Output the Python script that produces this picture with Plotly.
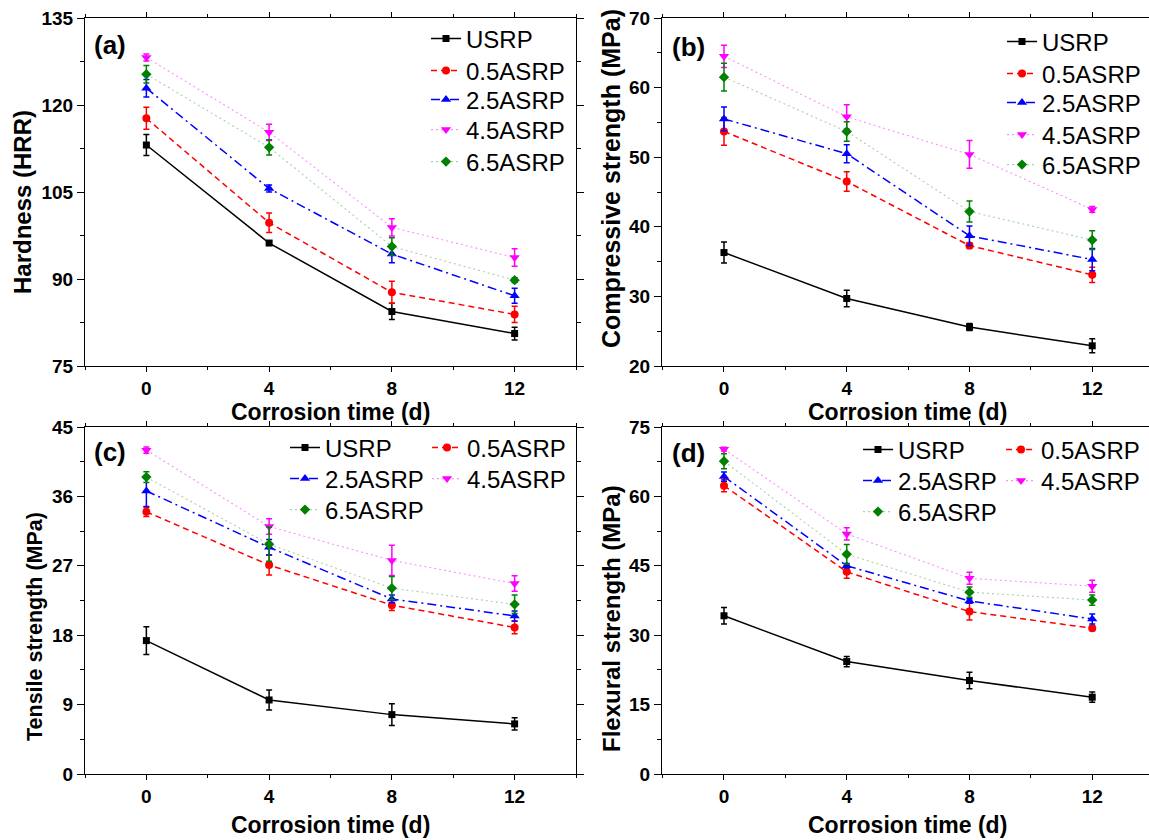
import plotly.graph_objects as go

# ---------------- data ----------------
days = [0, 4, 8, 12]
series_names = ["USRP", "0.5ASRP", "2.5ASRP", "4.5ASRP", "6.5ASRP"]

# (a) Hardness (HRR)
hard_usrp = [113.1, 96.2, 84.4, 80.6]
hard_usrp_err = [1.8, 0.4, 1.4, 1.1]
hard_05 = [117.7, 99.7, 87.7, 83.9]
hard_05_err = [1.9, 1.7, 1.9, 1.4]
hard_25 = [122.9, 105.6, 94.3, 87.1]
hard_25_err = [1.5, 0.6, 1.5, 1.3]
hard_45 = [128.2, 115.3, 98.9, 93.7]
hard_45_err = [0.6, 1.4, 1.5, 1.5]
hard_65 = [125.3, 112.7, 95.6, 89.8]
hard_65_err = [1.5, 1.3, 1.5, 0.4]

# (b) Compressive strength (MPa)
comp_usrp = [36.3, 29.7, 25.6, 22.9]
comp_usrp_err = [1.5, 1.2, 0.5, 1.0]
comp_05 = [53.7, 46.5, 37.3, 33.1]
comp_05_err = [2.0, 1.4, 0.4, 1.1]
comp_25 = [55.5, 50.5, 38.7, 35.3]
comp_25_err = [1.7, 1.3, 1.4, 1.6]
comp_45 = [64.5, 55.8, 50.4, 42.5]
comp_45_err = [1.6, 1.75, 2.0, 0.4]
comp_65 = [61.5, 53.7, 42.2, 38.1]
comp_65_err = [2.0, 1.4, 1.5, 1.35]

# (c) Tensile strength (MPa)
tens_usrp = [17.3, 9.6, 7.7, 6.5]
tens_usrp_err = [1.8, 1.3, 1.4, 0.8]
tens_05 = [34.0, 27.1, 21.9, 19.0]
tens_05_err = [0.6, 1.3, 0.7, 0.8]
tens_25 = [36.7, 29.4, 22.7, 20.5]
tens_25_err = [2.0, 1.0, 0.5, 0.65]
tens_45 = [42.0, 32.1, 27.7, 24.7]
tens_45_err = [0.4, 1.0, 1.95, 1.0]
tens_65 = [38.5, 29.8, 24.1, 22.0]
tens_65_err = [0.7, 2.2, 1.5, 1.2]

# (d) Flexural strength (MPa)
flex_usrp = [34.2, 24.3, 20.2, 16.6]
flex_usrp_err = [1.8, 1.1, 1.8, 1.1]
flex_05 = [62.3, 43.7, 35.1, 31.5]
flex_05_err = [1.3, 1.4, 1.8, 0.5]
flex_25 = [64.3, 45.0, 37.4, 33.5]
flex_25_err = [1.0, 0.5, 0.5, 1.1]
flex_45 = [70.2, 51.9, 42.3, 40.6]
flex_45_err = [0.4, 1.3, 1.3, 1.3]
flex_65 = [67.6, 47.5, 39.3, 37.6]
flex_65_err = [1.6, 2.1, 1.1, 1.1]

panel_data = [
    [(hard_usrp, hard_usrp_err), (hard_05, hard_05_err), (hard_25, hard_25_err),
     (hard_45, hard_45_err), (hard_65, hard_65_err)],
    [(comp_usrp, comp_usrp_err), (comp_05, comp_05_err), (comp_25, comp_25_err),
     (comp_45, comp_45_err), (comp_65, comp_65_err)],
    [(tens_usrp, tens_usrp_err), (tens_05, tens_05_err), (tens_25, tens_25_err),
     (tens_45, tens_45_err), (tens_65, tens_65_err)],
    [(flex_usrp, flex_usrp_err), (flex_05, flex_05_err), (flex_25, flex_25_err),
     (flex_45, flex_45_err), (flex_65, flex_65_err)],
]

# ---------------- styles ----------------
W, H = 1149, 840
FONT = "Liberation Sans, Arial, sans-serif"

marker_colors = ["#000000", "#ff0000", "#0000ff", "#ff00ff", "#008000"]
line_colors = ["#000000", "#ff0000", "#0000ff", "rgba(255,0,255,0.45)", "rgba(0,128,0,0.35)"]
line_dash = ["solid", "6px,4px", "9px,4px,2px,4px", "2px,3px", "2px,3px"]
line_width = [1.5, 1.5, 1.5, 1.1, 1.1]
symbols = ["square", "circle", "triangle-up", "triangle-down", "diamond"]
sizes = [7, 8, 9, 9, 8]


def px_x(p):
    return p / W


def px_y(p):
    return 1 - p / H


panels = [
    dict(xd=(85, 576), yd=(18, 366), xr=(-2, 14), yr=(75, 135), dt=15, mdt=7.5, mirror_y="allticks"),
    dict(xd=(662, 1149), yd=(18, 366), xr=(-2.02, 13.85), yr=(20, 70), dt=10, mdt=5, mirror_y=False),
    dict(xd=(85, 576), yd=(427, 774), xr=(-2, 14), yr=(0, 45), dt=9, mdt=4.5, mirror_y="allticks"),
    dict(xd=(662, 1149), yd=(427, 774), xr=(-2.02, 13.85), yr=(0, 75), dt=15, mdt=7.5, mirror_y=False),
]

# legend entry positions (text left x, row centre y) in pixels, per panel and series
legend_xy = [
    [(467, 39), (467, 71), (467, 100), (467, 130), (467, 162)],
    [(1043, 42), (1043, 74), (1043, 103), (1043, 135), (1043, 165)],
    [(326, 448), (468, 448), (326, 479), (468, 479), (326, 510)],
    [(899, 450), (1042, 450), (899, 481), (1042, 481), (899, 512)],
]

fig = go.Figure()
legend_layouts = {}
for p, pdata in enumerate(panel_data):
    xa = "x" if p == 0 else f"x{p+1}"
    ya = "y" if p == 0 else f"y{p+1}"
    for s, (vals, errs) in enumerate(pdata):
        k = p * 5 + s + 1
        lname = "legend" if k == 1 else f"legend{k}"
        tx, ty = legend_xy[p][s]
        legend_layouts[lname] = dict(
            x=px_x(tx - 41), y=px_y(ty), xanchor="left", yanchor="middle",
            bgcolor="rgba(0,0,0,0)", borderwidth=0, orientation="v",
            font=dict(family=FONT, size=24, color="black"), itemwidth=30,
        )
        fig.add_trace(go.Scatter(
            x=days, y=vals, name=series_names[s], mode="lines+markers",
            xaxis=xa, yaxis=ya, legend=lname,
            line=dict(color=line_colors[s], dash=line_dash[s], width=line_width[s]),
            marker=dict(symbol=symbols[s], size=sizes[s], color=marker_colors[s],
                        line=dict(width=0)),
            error_y=dict(type="data", array=errs, visible=True, color=marker_colors[s],
                         thickness=1.5, width=3),
        ))

layout = dict(
    template="none",
    width=W, height=H, margin=dict(l=0, r=0, t=0, b=0, pad=0, autoexpand=False),
    paper_bgcolor="white", plot_bgcolor="white",
    font=dict(family=FONT, color="black"),
    showlegend=True,
)
layout.update(legend_layouts)

for p, cfg in enumerate(panels):
    suffix = "" if p == 0 else str(p + 1)
    common = dict(
        showline=True, linecolor="black", linewidth=1.2,
        ticks="outside", ticklen=5, tickwidth=1.2, tickcolor="black",
        showgrid=False, zeroline=False, automargin=False,
        tickfont=dict(family=FONT, size=19, color="black", weight="bold"),
    )
    layout["xaxis" + suffix] = dict(
        common, domain=[px_x(cfg["xd"][0]), px_x(cfg["xd"][1])],
        range=list(cfg["xr"]), tickmode="linear", tick0=0, dtick=4,
        mirror="allticks", anchor="y" + suffix,
        minor=dict(ticks="outside", ticklen=3, tickwidth=1, tickcolor="black", dtick=2, tick0=0),
    )
    layout["yaxis" + suffix] = dict(
        common, domain=[px_y(cfg["yd"][1]), px_y(cfg["yd"][0])],
        range=list(cfg["yr"]), tickmode="linear", tick0=cfg["yr"][0], dtick=cfg["dt"],
        mirror=cfg["mirror_y"], anchor="x" + suffix, ticklen=7,
        minor=dict(ticks="outside", ticklen=4, tickwidth=1, tickcolor="black",
                   dtick=cfg["mdt"], tick0=cfg["yr"][0]),
    )

annotations = []
# panel labels
for label, (cx, cy) in zip(["(a)", "(b)", "(c)", "(d)"],
                           [(110, 45), (688, 47), (110, 452), (688, 453)]):
    annotations.append(dict(text=label, x=px_x(cx), y=px_y(cy), xref="paper", yref="paper",
                            xanchor="center", yanchor="middle", showarrow=False,
                            font=dict(family=FONT, size=26, color="black", weight="bold")))
# x titles
for cx, cy in [(330, 412), (907, 412), (330, 825), (907, 825)]:
    annotations.append(dict(text="Corrosion time (d)", x=px_x(cx), y=px_y(cy),
                            xref="paper", yref="paper", xanchor="center", yanchor="middle",
                            showarrow=False,
                            font=dict(family=FONT, size=23, color="black", weight="bold")))
# y titles
for txt, cx, cy, fs in [("Hardness (HRR)", 22, 202, 24),
                        ("Compressive strength (MPa)", 611, 179, 25),
                        ("Tensile strength (MPa)", 35, 627, 21.5),
                        ("Flexural strength (MPa)", 611, 619, 24)]:
    annotations.append(dict(text=txt, x=px_x(cx), y=px_y(cy), xref="paper", yref="paper",
                            xanchor="center", yanchor="middle", showarrow=False, textangle=-90,
                            font=dict(family=FONT, size=fs, color="black", weight="bold")))
layout["annotations"] = annotations

fig.update_layout(**layout)

fig.write_html("out.html", config={"displayModeBar": False},
               post_script="document.body.style.margin='0';document.body.style.overflow='hidden';")
